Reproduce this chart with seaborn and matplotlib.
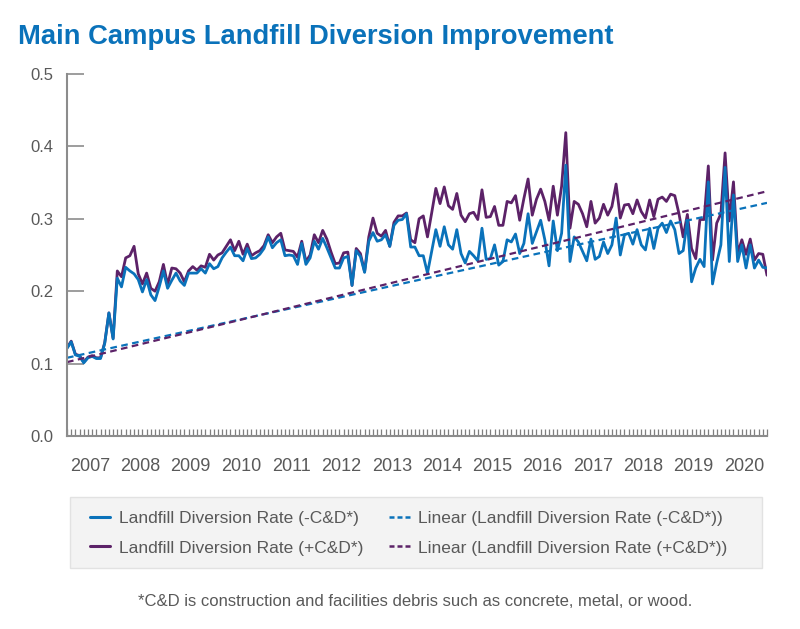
import numpy as np
import pandas as pd
import matplotlib.pyplot as plt
from matplotlib.patches import Rectangle
from matplotlib.lines import Line2D
import seaborn as sns

# monthly landfill diversion rate, Jan 2007 - Dec 2020
months = pd.date_range("2007-01-01", periods=168, freq="MS")
years = list(range(2007, 2021))

rate_no_cd = [
    0.121, 0.130, 0.112, 0.110, 0.101, 0.108, 0.110, 0.107, 0.107, 0.128, 0.170, 0.134,
    0.218, 0.206, 0.233, 0.228, 0.224, 0.216, 0.199, 0.216, 0.195, 0.187, 0.206, 0.228,
    0.204, 0.215, 0.225, 0.214, 0.208, 0.225, 0.225, 0.225, 0.231, 0.225, 0.238, 0.231,
    0.234, 0.246, 0.254, 0.261, 0.249, 0.249, 0.242, 0.259, 0.245, 0.246, 0.251, 0.259,
    0.275, 0.260, 0.267, 0.271, 0.249, 0.250, 0.249, 0.237, 0.266, 0.237, 0.246, 0.269,
    0.258, 0.273, 0.260, 0.246, 0.232, 0.232, 0.246, 0.248, 0.208, 0.256, 0.248, 0.226,
    0.269, 0.281, 0.269, 0.271, 0.278, 0.262, 0.291, 0.298, 0.299, 0.307, 0.261, 0.261,
    0.249, 0.249, 0.225, 0.255, 0.285, 0.262, 0.289, 0.264, 0.258, 0.285, 0.252, 0.239,
    0.255, 0.249, 0.242, 0.287, 0.244, 0.245, 0.264, 0.236, 0.241, 0.271, 0.268, 0.279,
    0.252, 0.266, 0.307, 0.266, 0.282, 0.298, 0.271, 0.235, 0.297, 0.256, 0.280, 0.374,
    0.241, 0.275, 0.268, 0.255, 0.242, 0.272, 0.244, 0.248, 0.268, 0.252, 0.264, 0.301,
    0.250, 0.278, 0.280, 0.265, 0.285, 0.264, 0.257, 0.287, 0.259, 0.287, 0.294, 0.281,
    0.297, 0.285, 0.252, 0.256, 0.298, 0.213, 0.232, 0.244, 0.234, 0.351, 0.210, 0.239,
    0.264, 0.371, 0.241, 0.333, 0.241, 0.264, 0.232, 0.264, 0.232, 0.243, 0.233, 0.232,
]

rate_with_cd = [
    0.122, 0.131, 0.113, 0.111, 0.102, 0.109, 0.111, 0.108, 0.108, 0.129, 0.170, 0.135,
    0.228, 0.220, 0.246, 0.249, 0.262, 0.224, 0.210, 0.225, 0.204, 0.200, 0.213, 0.237,
    0.209, 0.232, 0.231, 0.225, 0.213, 0.228, 0.234, 0.229, 0.235, 0.233, 0.251, 0.243,
    0.250, 0.253, 0.262, 0.271, 0.256, 0.269, 0.251, 0.265, 0.249, 0.253, 0.256, 0.263,
    0.278, 0.267, 0.275, 0.280, 0.257, 0.256, 0.255, 0.247, 0.269, 0.241, 0.250, 0.278,
    0.267, 0.284, 0.272, 0.254, 0.238, 0.239, 0.253, 0.254, 0.208, 0.259, 0.252, 0.227,
    0.275, 0.301, 0.280, 0.276, 0.284, 0.262, 0.295, 0.304, 0.304, 0.308, 0.271, 0.267,
    0.300, 0.304, 0.275, 0.308, 0.342, 0.321, 0.344, 0.318, 0.313, 0.335, 0.305, 0.296,
    0.307, 0.309, 0.299, 0.340, 0.302, 0.303, 0.317, 0.291, 0.291, 0.324, 0.322, 0.332,
    0.298, 0.328, 0.355, 0.305, 0.327, 0.341, 0.324, 0.298, 0.345, 0.305, 0.345, 0.419,
    0.287, 0.324, 0.320, 0.307, 0.289, 0.324, 0.294, 0.301, 0.320, 0.305, 0.317, 0.348,
    0.301, 0.319, 0.320, 0.307, 0.326, 0.310, 0.301, 0.326, 0.303, 0.327, 0.330, 0.324,
    0.334, 0.332, 0.307, 0.275, 0.306, 0.259, 0.245, 0.299, 0.299, 0.373, 0.243, 0.294,
    0.307, 0.391, 0.297, 0.351, 0.252, 0.271, 0.251, 0.272, 0.243, 0.252, 0.251, 0.222,
]

# Excel linear trendlines, value at first and last month
trend_no_cd = [0.108, 0.322]
trend_with_cd = [0.102, 0.338]

labels = ["Landfill Diversion Rate (-C&D*)", "Landfill Diversion Rate (+C&D*)"]

blue = "#0a72ba"
purple = "#5c2268"
grey_txt = "#595959"
grey_ax = "#8c8c8c"

df = pd.DataFrame({"month": np.arange(len(months)),
                   "no_cd": rate_no_cd,
                   "with_cd": rate_with_cd})
ends = [df["month"].iloc[0], df["month"].iloc[-1]]

sns.set_style("white")
plt.rcParams["font.family"] = ["Liberation Sans", "DejaVu Sans"]

fig = plt.figure(figsize=(8, 6.29), dpi=100)
ax = fig.add_axes([67 / 800, 1 - 436 / 629, 700 / 800, 362 / 629])

sns.lineplot(data=df, x="month", y="with_cd", color=purple, lw=2.0, ax=ax)
sns.lineplot(data=df, x="month", y="no_cd", color=blue, lw=2.0, ax=ax)
sns.lineplot(x=ends, y=trend_no_cd, color=blue, lw=1.6, ls=(0, (3, 2)), ax=ax)
sns.lineplot(x=ends, y=trend_with_cd, color=purple, lw=1.6, ls=(0, (3, 2)), ax=ax)

ax.set_xlim(0, len(months) - 1)
ax.set_ylim(0, 0.5)
ax.set_xlabel("")
ax.set_ylabel("")

ax.set_yticks(np.arange(0, 0.51, 0.1))
ax.set_yticklabels([f"{v:.1f}" for v in np.arange(0, 0.51, 0.1)])
ax.tick_params(axis="y", left=True, direction="in", length=12, width=1.2, color=grey_ax,
               labelsize=12, labelcolor=grey_txt, pad=10)

ax.set_xticks([12 * i + 5.5 for i in range(len(years))])
ax.set_xticklabels([str(y) for y in years])
ax.set_xticks(np.arange(len(months)), minor=True)
ax.tick_params(axis="x", which="major", length=0, labelsize=13, labelcolor=grey_txt, pad=16)
ax.tick_params(axis="x", which="minor", direction="in", length=5, width=0.9,
               color="#7f7f7f", bottom=True)

for s in ["top", "right"]:
    ax.spines[s].set_visible(False)
for s in ["left", "bottom"]:
    ax.spines[s].set_color(grey_ax)
    ax.spines[s].set_linewidth(1.5)

fig.text(18 / 800, 1 - 44 / 629, "Main Campus Landfill Diversion Improvement",
         color="#0a72ba", fontsize=19.7, fontweight="bold", va="baseline")

# legend box
fig.patches.append(Rectangle((70 / 800, 1 - 568 / 629), 692 / 800, 71 / 629,
                             transform=fig.transFigure, facecolor="#f3f3f3",
                             edgecolor="#e2e2e2", lw=1, zorder=0))
handles = [Line2D([], [], color=blue, lw=2.2),
           Line2D([], [], color=purple, lw=2.2),
           Line2D([], [], color=blue, lw=1.8, ls=(0, (2, 1.2))),
           Line2D([], [], color=purple, lw=1.8, ls=(0, (2, 1.2)))]
leg_labels = labels + ["Linear (" + labels[0] + ")", "Linear (" + labels[1] + ")"]
fig.legend(handles, leg_labels, ncol=2, frameon=False, loc="center left",
           bbox_to_anchor=(74 / 800, 1 - 533 / 629), fontsize=12.5,
           labelcolor=grey_txt, handlelength=1.2, handletextpad=0.5,
           columnspacing=1.45, labelspacing=0.85)

fig.text(415 / 800, 1 - 601 / 629,
         "*C&D is construction and facilities debris such as concrete, metal, or wood.",
         color=grey_txt, fontsize=12, ha="center", va="center")

fig.savefig("out.png", dpi=100)
